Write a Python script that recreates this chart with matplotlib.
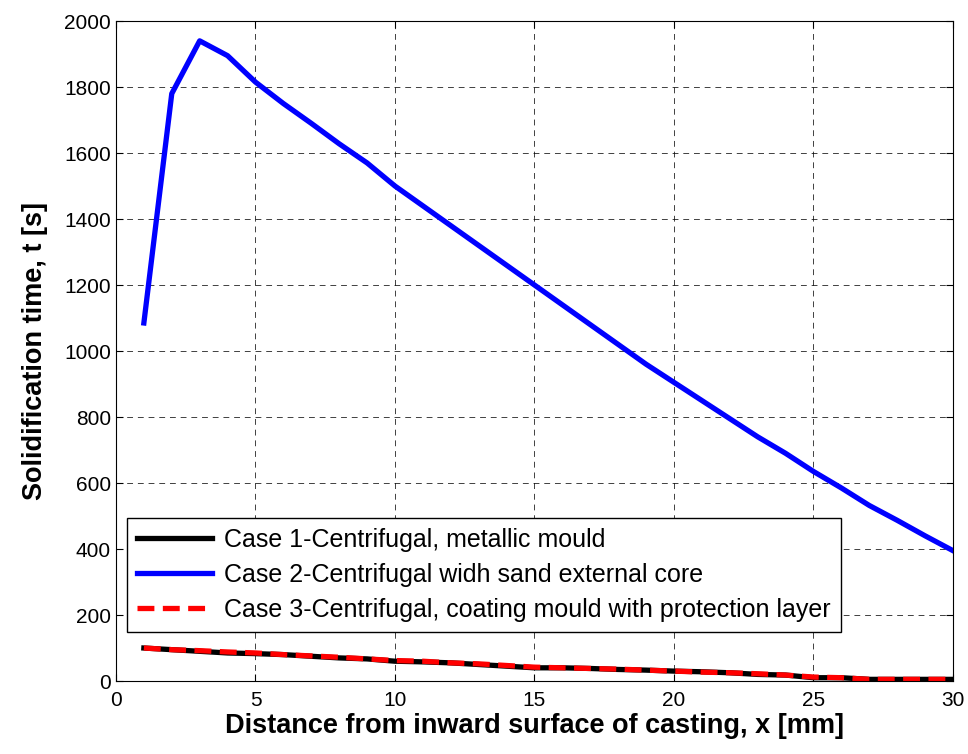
import numpy as np
import matplotlib.pyplot as plt

plt.rcParams['font.family'] = ['Liberation Sans', 'DejaVu Sans']

x = np.arange(1, 31)
case1 = [100, 95, 90, 85, 83, 80, 75, 70, 67, 60, 58, 55, 50, 45, 40,
         40, 38, 35, 33, 30, 28, 25, 20, 18, 10, 10, 5, 5, 5, 5]
case2 = [1085, 1780, 1940, 1895, 1815, 1750, 1690, 1628, 1570, 1500,
         1440, 1380, 1320, 1260, 1200, 1140, 1080, 1020, 960, 905,
         850, 795, 740, 690, 635, 585, 532, 487, 440, 395]
case3 = [100, 95, 92, 88, 85, 80, 76, 72, 67, 62, 60, 55, 52, 47, 42,
         40, 38, 36, 33, 30, 27, 25, 22, 18, 12, 10, 5, 5, 5, 5]
labels = ['Case 1-Centrifugal, metallic mould',
          'Case 2-Centrifugal widh sand external core',
          'Case 3-Centrifugal, coating mould with protection layer']

fig = plt.figure(figsize=(9.68, 7.54), dpi=100)
ax = fig.add_axes([0.1198, 0.0968, 0.8647, 0.8753])

ax.plot(x, case1, color='black', lw=3.8, label=labels[0])
ax.plot(x, case2, color='blue', lw=3.8, label=labels[1])
ax.plot(x, case3, color='red', lw=3.8, ls=(0, (3.2, 1.6)), label=labels[2])

ax.set_xlim(0, 30)
ax.set_ylim(0, 2000)
ax.set_xticks(np.arange(0, 31, 5))
ax.set_yticks(np.arange(0, 2001, 200))
ax.grid(True, color='black', ls=(0, (6, 5)), lw=0.7, alpha=0.75)
ax.tick_params(direction='in', labelsize=15, length=5, top=True, right=True)
ax.tick_params(axis='x', pad=7)
for s in ax.spines.values():
    s.set_linewidth(0.8)

ax.set_xlabel('Distance from inward surface of casting, x [mm]',
              fontsize=19.5, fontweight='bold', labelpad=2)
ax.set_ylabel('Solidification time, t [s]', fontsize=19.5, fontweight='bold', labelpad=12)

leg = ax.legend(loc='lower left', bbox_to_anchor=(0.013, 0.074), borderaxespad=0,
                prop={'size': 18}, handlelength=3.0,
                fancybox=False, framealpha=1, edgecolor='black',
                borderpad=0.4, labelspacing=0.45, handletextpad=0.5)
leg.get_frame().set_linewidth(1.0)

fig.savefig('out.png', dpi=100)
